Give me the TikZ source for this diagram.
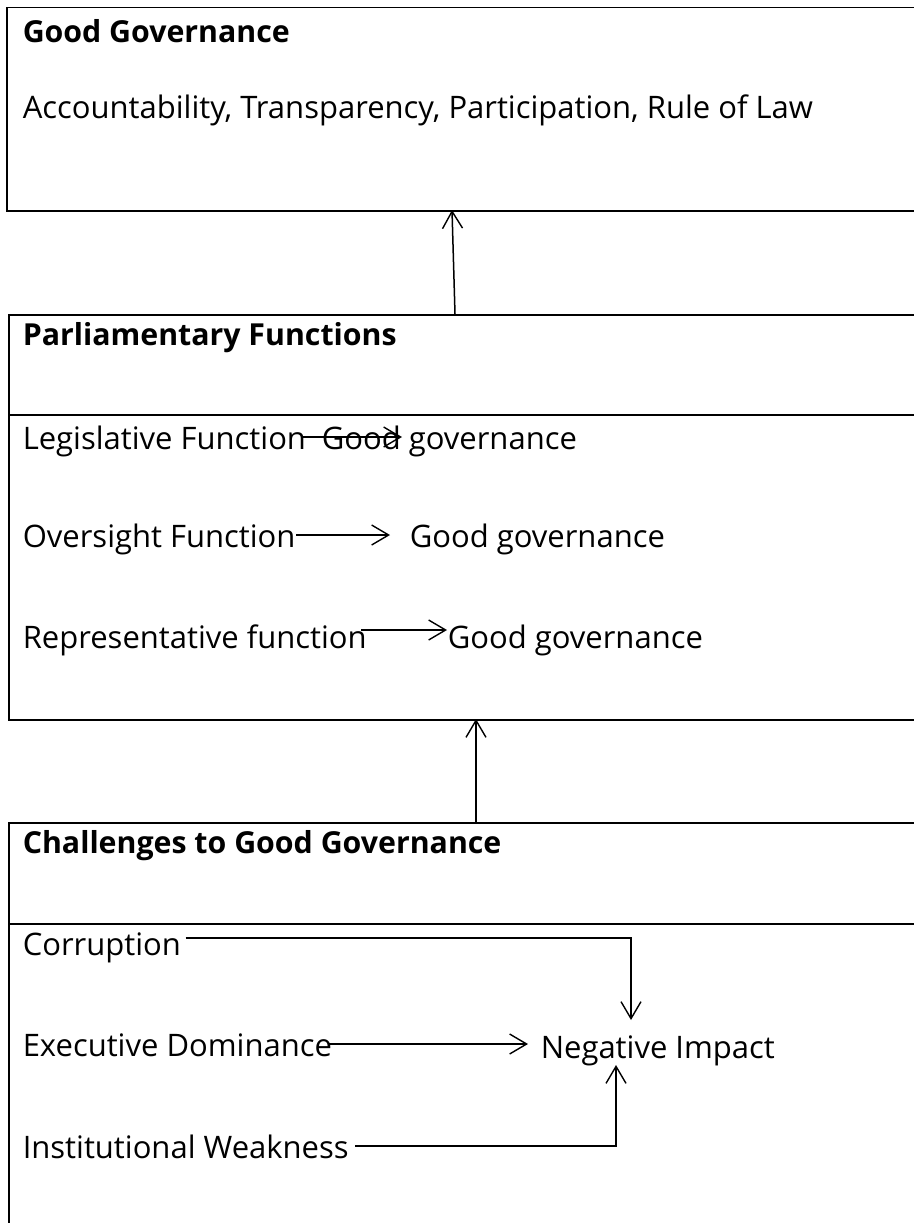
\documentclass[tikz,border=0pt]{standalone}
\usepackage{fontspec}
\setmainfont{Open Sans}
\usetikzlibrary{arrows.meta}

\begin{document}
\begin{tikzpicture}[x=1pt,y=-1pt,line width=1.5pt,
    panel/.style={draw,rectangle,inner sep=0,anchor=north west,minimum width=930},
    txt/.style={inner sep=0,anchor=west,text height=30,text depth=5,
      font=\fontsize{31}{37}\selectfont},
    head/.style={txt,font=\fontsize{30.3}{37}\selectfont\bfseries},
    arr/.style={-{Straight Barb[length=17pt,width=20pt,line width=1.4pt]}}]
  \useasboundingbox (0,0) rectangle (913,1223);

  %boxes
  \node[panel,minimum height=203] (ggbox) at (6,7) {};
  \node[panel,minimum height=405] (pfbox) at (8,314) {};
  \node[panel,minimum height=420] (chbox) at (8,822) {};
  \draw (8,415) -- (925,415);
  \draw (8,924) -- (925,924);

  %texts
  \node[head] (ggt) at (22,30) {Good Governance};
  \node[txt] (acc) at (22,106) {Accountability, Transparency, Participation, Rule of Law};
  \node[head] (pft) at (22,333) {Parliamentary Functions};
  \node[txt] (leg) at (22,437) {Legislative Function};
  \node[txt] (lgg) at (321,437) {Good governance};
  \node[txt] (ovs) at (22,535) {Oversight Function};
  \node[txt] (ogg) at (409,535) {Good governance};
  \node[txt] (rep) at (22,636) {Representative function};
  \node[txt] (rgg) at (447,636) {Good governance};
  \node[head] (cht) at (22,841) {Challenges to Good Governance};
  \node[txt] (cor) at (22,943) {Corruption};
  \node[txt] (exe) at (22,1044) {Executive Dominance};
  \node[txt] (neg) at (540,1046) {Negative Impact};
  \node[txt] (ins) at (22,1146) {Institutional Weakness};

  %arrow ends
  \coordinate (up1) at (452,210);
  \coordinate (lo1) at (455,314);
  \coordinate (up2) at (476,719);
  \coordinate (lo2) at (476,822);
  \coordinate (ltip) at (402,437);
  \coordinate (otip) at (390,535);
  \coordinate (rtip) at (447,630);
  \coordinate (ntop) at (631,1020);
  \coordinate (nbot) at (616,1065);

  \draw[arr] (lo1) -- (up1);
  \draw[arr] (lo2) -- (up2);
  \draw[arr] ([xshift=-6pt]leg.east) -- (ltip);
  \draw[arr] (ovs.east) -- (otip);
  \draw[arr] ([xshift=-6pt,yshift=6pt]rep.east) -- (rtip);
  \draw[arr] ([xshift=4pt,yshift=5pt]cor.east) -| (ntop);
  \draw[arr] ([xshift=-5pt]exe.east) -- ([xshift=-12pt,yshift=2pt]neg.west);
  \draw[arr] ([xshift=6pt]ins.east) -| (nbot);
\end{tikzpicture}
\end{document}
